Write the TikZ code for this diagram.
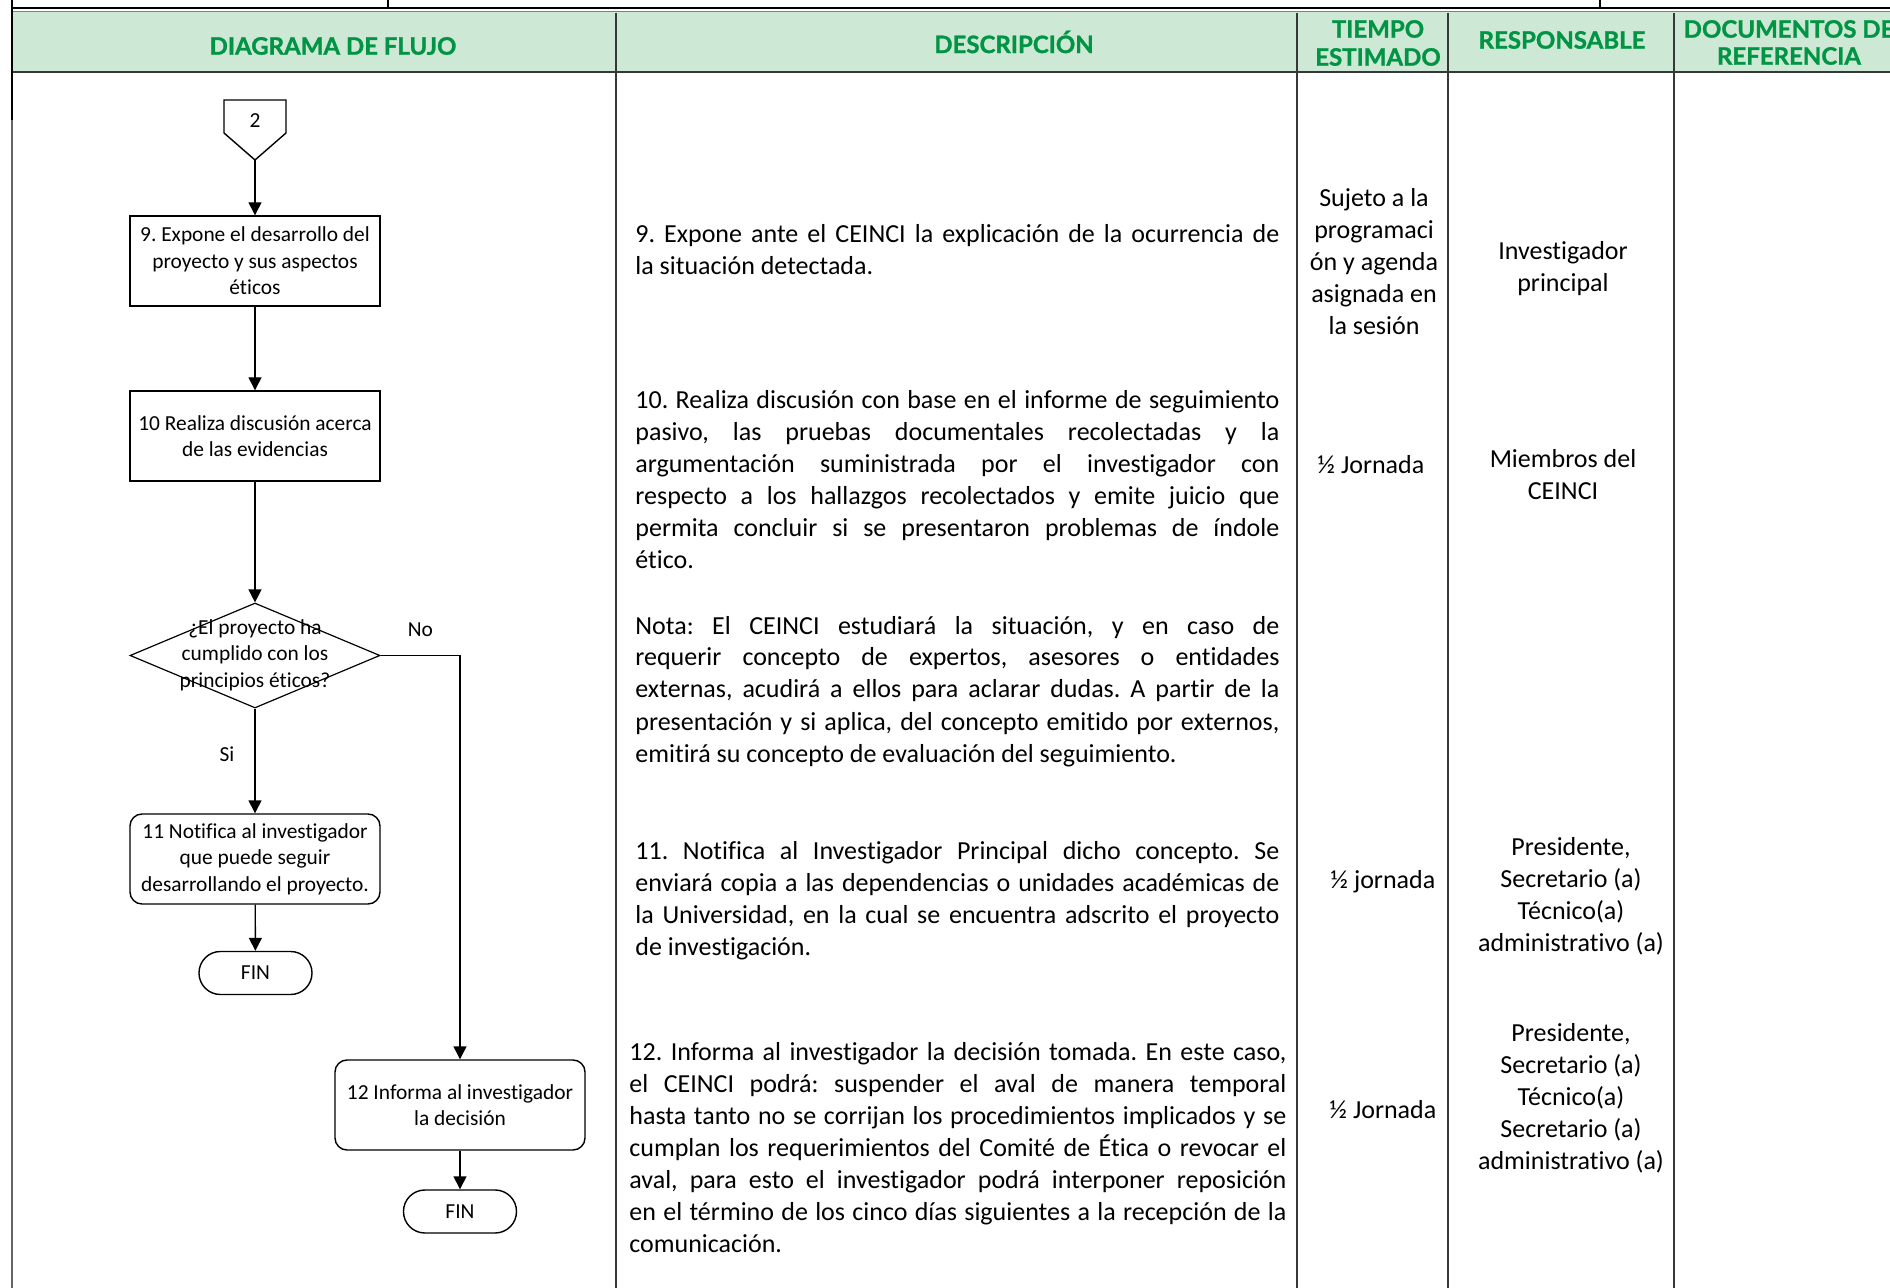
\documentclass[tikz,border=0pt]{standalone}
\usepackage{fontspec}
\setmainfont{Carlito}[Ligatures=NoCommon]
\newfontfamily\hdrfont{Lato}[BoldFeatures={FakeBold=1.2}]
\usetikzlibrary{arrows.meta,shapes.geometric}
\definecolor{hdrfill}{RGB}{205,233,213}
\definecolor{hdrtext}{RGB}{0,148,68}
\definecolor{rulecol}{RGB}{55,55,55}
\newcommand\flowfont{\fontsize{10.7}{13.3}\selectfont}
\newcommand\descfont{\fontsize{13}{16}\selectfont}
\newcommand\jl[1]{\makebox[\linewidth][s]{#1}}
\frenchspacing
\begin{document}
\begin{tikzpicture}[x=0.5pt,y=-0.5pt,
  fbox/.style={draw=black, line width=0.7pt, minimum width=125pt, minimum height=45pt, inner sep=2pt, align=center, font=\flowfont},
  rbox/.style={fbox, rounded corners=6pt},
  term/.style={draw=black, line width=0.7pt, minimum width=56.5pt, minimum height=21.5pt, rounded corners=10.7pt, inner sep=0pt, font=\flowfont},
  dia/.style={diamond, draw=black, line width=0.6pt, minimum width=125pt, minimum height=52.5pt, inner sep=0pt},
  arr/.style={line width=0.7pt, -{Triangle[length=6.5pt,width=6.5pt]}},
  lbl/.style={font=\flowfont, inner sep=0pt},
  hdr/.style={font=\hdrfont\bfseries\fontsize{12}{14}\selectfont, text=hdrtext, inner sep=0pt},
  desc/.style={font=\descfont, inner sep=0pt, anchor=base west},
  col/.style={font=\descfont, inner sep=0pt, anchor=base},
  tabline/.style={draw=rulecol, line width=0.75pt}
]
\useasboundingbox (0,0) rectangle (1890,1288);
% ---------- table frame ----------
\fill[hdrfill] (12,11) rectangle (1890,72);
\draw[black, line width=1.2pt] (12,8) -- (1890,8);
\draw[gray, line width=0.5pt] (12,11.5) -- (1890,11.5);
\draw[rulecol, line width=1pt] (12,72) -- (1890,72);
\draw[black, line width=0.8pt] (388,0) -- (388,8);
\draw[black, line width=0.8pt] (1600,0) -- (1600,8);
\draw[gray!80!black, line width=0.9pt] (12,0) -- (12,1288);
\draw[black, line width=1.4pt] (12,0) -- (12,120);
\foreach \x in {616,1297,1448,1674} \draw[tabline] (\x,13) -- (\x,1288);
% ---------- header ----------
\node[hdr] (h1) at (333,46) {DIAGRAMA DE FLUJO};
\node[hdr] (h2) at (1014,42) {DESCRIPCIÓN};
\node[hdr] (h3a) at (1378,29) {TIEMPO};
\node[hdr] (h3b) at (1378,57) {ESTIMADO};
\node[hdr] (h4) at (1562,40) {RESPONSABLE};
\node[hdr] (h5a) at (1789,29) {DOCUMENTOS DE};
\node[hdr] (h5b) at (1789,56) {REFERENCIA};
% ---------- flowchart ----------
\draw[black, line width=0.7pt] (224,100) -- (286,100) -- (286,133) -- (255,160) -- (224,133) -- cycle;
\coordinate (c2) at (255,160);
\node[lbl] (n2) at (255,121) {2};
\node[fbox] (b9) at (255,261) {9. Expone el desarrollo del\\proyecto y sus aspectos\\éticos};
\node[fbox] (b10) at (255,436) {10 Realiza discusión acerca\\de las evidencias};
\node[dia] (dec) at (255,655.5) {};
\node[lbl, align=center] (dect) at (255,655) {¿El proyecto ha\\cumplido con los\\principios éticos?};
\node[rbox] (b11) at (255,859) {11 Notifica al investigador\\que puede seguir\\desarrollando el proyecto.};
\node[term] (fin1) at (255.5,973) {FIN};
\node[rbox] (b12) at (460,1105) {12 Informa al investigador\\la decisión};
\node[term] (fin2) at (460,1211.5) {FIN};
\draw[arr] (c2) -- (b9.north);
\draw[arr] (b9) -- (b10);
\draw[arr] (b10) -- (dec.north);
\draw[arr] (dec.south) -- node[lbl, pos=0.44, left=10pt] (si) {Si} (b11.north);
\draw[arr] (dec.east) -| node[lbl, pos=0.25, above=9pt] (no) {No} (b12.north);
\draw[arr] (b11) -- (fin1);
\draw[arr] (b12) -- (fin2);
% ---------- descriptions ----------
\node[desc] (d9) at (635,243) {\parbox[t]{322pt}{\jl{9. Expone ante el CEINCI la explicación de la ocurrencia de}\\la situación detectada.}};
\node[desc] (d10) at (635,409) {\parbox[t]{322pt}{\jl{10. Realiza discusión con base en el informe de seguimiento}\\\jl{pasivo, las pruebas documentales recolectadas y la}\\\jl{argumentación suministrada por el investigador con}\\\jl{respecto a los hallazgos recolectados y emite juicio que}\\\jl{permita concluir si se presentaron problemas de índole}\\ético.}};
\node[desc] (dn) at (635,634) {\parbox[t]{322pt}{\jl{Nota: El CEINCI estudiará la situación, y en caso de}\\\jl{requerir concepto de expertos, asesores o entidades}\\\jl{externas, acudirá a ellos para aclarar dudas. A partir de la}\\\jl{presentación y si aplica, del concepto emitido por externos,}\\emitirá su concepto de evaluación del seguimiento.}};
\node[desc] (d11) at (635,859) {\parbox[t]{322pt}{\jl{11. Notifica al Investigador Principal dicho concepto. Se}\\\jl{enviará copia a las dependencias o unidades académicas de}\\\jl{la Universidad, en la cual se encuentra adscrito el proyecto}\\de investigación.}};
\node[desc] (d12) at (629,1060) {\parbox[t]{328.5pt}{\jl{12. Informa al investigador la decisión tomada. En este caso,}\\\jl{el CEINCI podrá: suspender el aval de manera temporal}\\\jl{hasta tanto no se corrijan los procedimientos implicados y se}\\\jl{cumplan los requerimientos del Comité de Ética o revocar el}\\\jl{aval, para esto el investigador podrá interponer reposición}\\\jl{en el término de los cinco días siguientes a la recepción de la}\\comunicación.}};
% ---------- tiempo ----------
\node[col] (t9) at (1374,207) {\parbox[t]{72pt}{\centering Sujeto a la\\programaci\\ón y agenda\\asignada en\\la sesión}};
\node[col] (t10) at (1371,474) {½ Jornada};
\node[col] (t11) at (1383,888) {½ jornada};
\node[col] (t12) at (1383,1118) {½ Jornada};
% ---------- responsable ----------
\node[col] (r9) at (1563,260) {\parbox[t]{108pt}{\centering Investigador\\principal}};
\node[col] (r10) at (1563,468) {\parbox[t]{108pt}{\centering Miembros del\\CEINCI}};
\node[col] (r11) at (1571,855) {\parbox[t]{108pt}{\centering Presidente,\\Secretario (a)\\Técnico(a)\\administrativo (a)}};
\node[col] (r12) at (1571,1041) {\parbox[t]{108pt}{\centering Presidente,\\Secretario (a)\\Técnico(a)\\Secretario (a)\\administrativo (a)}};
\end{tikzpicture}
\end{document}
